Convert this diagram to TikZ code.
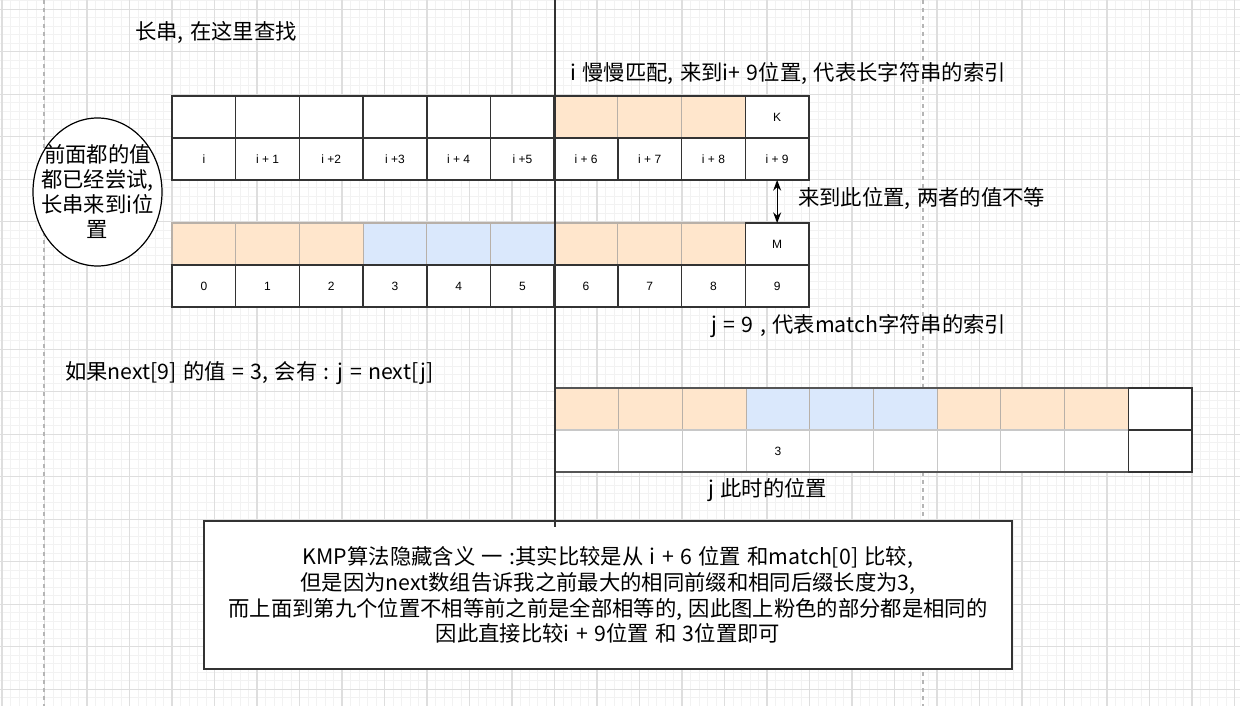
\documentclass[tikz,border=0pt]{standalone}
\usepackage{fontspec}
\setmainfont{Noto Sans CJK SC}
\newfontfamily\cellfont{Liberation Sans}
\usetikzlibrary{shapes.geometric,arrows.meta}
\definecolor{orangefill}{HTML}{FFE6CC}
\definecolor{bluefill}{HTML}{DAE8FC}
\definecolor{darkline}{HTML}{333333}
\definecolor{midline}{HTML}{555555}
\definecolor{softline}{HTML}{B8B0A8}
\definecolor{lightline}{HTML}{C8C8C8}
\definecolor{majorgrid}{HTML}{DEDEDE}
\definecolor{minorgrid}{HTML}{F2F2F2}
\definecolor{pageline}{HTML}{B5B5B5}
\newcommand\mytxt{\fontsize{16pt}{19.3pt}\selectfont\spaceskip=0.3em plus 0.1em}
\begin{document}
\begin{tikzpicture}[x=0.75pt,y=-0.75pt,
  cellbox/.style={rectangle, minimum width=47.78pt, minimum height=31.5pt, inner sep=0pt, outer sep=0pt, font=\cellfont\fontsize{9}{11}\selectfont},
  darkcell/.style={cellbox, draw=darkline, line width=1.1pt, fill=white},
  orangecell/.style={cellbox, draw=softline, line width=0.8pt, fill=orangefill},
  bluecell/.style={cellbox, draw=softline, line width=0.8pt, fill=bluefill},
  lightcell/.style={cellbox, draw=lightline, line width=0.8pt, fill=white},
  label/.style={anchor=west, inner sep=0pt, font=\mytxt, text=black},
  twoway/.style={{Stealth[length=8pt,width=6pt]}-{Stealth[length=8pt,width=6pt]}}
]
\useasboundingbox (0,0) rectangle (1240,706);
\fill[white] (0,0) rectangle (1240,706);
% grid
\foreach \k in {0,...,146} {\draw[minorgrid, line width=0.6pt] (2-8.5+\k*8.5,0) -- (2-8.5+\k*8.5,706);}
\foreach \k in {0,...,83} {\draw[minorgrid, line width=0.6pt] (0,0.8+\k*8.5) -- (1240,0.8+\k*8.5);}
\foreach \k in {0,...,29} {\draw[majorgrid, line width=0.8pt] (2+\k*42.5,0) -- (2+\k*42.5,706);}
\foreach \k in {0,...,16} {\draw[majorgrid, line width=0.8pt] (0,9.3+\k*42.5) -- (1240,9.3+\k*42.5);}
\draw[pageline, dashed, line width=0.8pt] (44,0) -- (44,706);
\draw[pageline, dashed, line width=0.8pt] (923,0) -- (923,706);

% table 1 (long string)
\foreach \i in {6,7,8} {\node[orangecell] (t1t\i) at (172+31.85+\i*63.7,117) {};}
\foreach \i in {0,...,5} {\node[darkcell] (t1t\i) at (172+31.85+\i*63.7,117) {};}
\node[darkcell] (t1t9) at (172+31.85+9*63.7,117) {K};
\foreach \i/\lab in {0/i, 1/i + 1, 2/i +2, 3/i +3, 4/i + 4, 5/i +5, 6/i + 6, 7/i + 7, 8/i + 8, 9/i + 9}
  {\node[darkcell] (t1b\i) at (172+31.85+\i*63.7,159) {\lab};}
\draw[darkline, line width=1.1pt] (t1t0.north west) rectangle (t1b9.south east);

% table 2 (match string)
\foreach \i in {0,1,2,6,7,8} {\node[orangecell] (t2t\i) at (172+31.85+\i*63.7,244) {};}
\foreach \i in {3,4,5} {\node[bluecell] (t2t\i) at (172+31.85+\i*63.7,244) {};}
\node[darkcell] (t2t9) at (172+31.85+9*63.7,244) {M};
\foreach \i in {0,...,9} {\node[darkcell] (t2b\i) at (172+31.85+\i*63.7,286) {\i};}

% table 3 (after shift)
\foreach \i in {0,1,2,6,7,8} {\node[orangecell] (t3t\i) at (555+31.85+\i*63.7,409) {};}
\foreach \i in {3,4,5} {\node[bluecell] (t3t\i) at (555+31.85+\i*63.7,409) {};}
\foreach \i in {0,1,2,4,5,6,7,8} {\node[lightcell] (t3b\i) at (555+31.85+\i*63.7,451) {};}
\node[lightcell] (t3b3) at (555+31.85+3*63.7,451) {3};
\draw[midline, line width=1pt] (t3t0.north west) rectangle (t3b8.south east);
\node[darkcell] (t3t9) at (555+31.85+9*63.7,409) {};
\node[darkcell] (t3b9) at (555+31.85+9*63.7,451) {};

% comparison arrow
\draw[twoway, line width=0.9pt, black] (t1b9.south) -- (t2t9.north);

% ellipse
\node[ellipse, draw=black, line width=0.9pt, fill=white, minimum width=96.75pt, minimum height=111pt, inner sep=0pt] (note) at (97.5,192) {};
\node[align=center, inner sep=0pt, font=\fontsize{16pt}{18.75pt}\selectfont] (notetext) at (note.center) {前面都的值\\都已经尝试,\\长串来到i位\\置};

% labels
\node[label] (l1) at (135,33) {长串, 在这里查找};
\node[label] (l2) at (570,73) {i 慢慢匹配, 来到i+ 9位置, 代表长字符串的索引};
\node[label] (l3) at (798,198) {来到此位置, 两者的值不等};
\node[label] (l4) at (711,326) {j = 9 , 代表match字符串的索引};
\node[label] (l5) at (65,373) {如果next[9] 的值 = 3, 会有 : j = next[j]};
\node[label] (l6) at (708,490) {j 此时的位置};

% explanation box
\node[draw=darkline, line width=1pt, fill=white, minimum width=606pt, minimum height=111pt, inner sep=0pt, align=center, font=\mytxt] (box) at (608,595) {KMP算法隐藏含义 一 :其实比较是从 i + 6 位置 和match[0] 比较,\\但是因为next数组告诉我之前最大的相同前缀和相同后缀长度为3,\\而上面到第九个位置不相等前之前是全部相等的, 因此图上粉色的部分都是相同的\\因此直接比较i + 9位置 和 3位置即可};

% divider line
\coordinate (vtop) at (555,0);
\coordinate (vbot) at (555,527);
\draw[darkline, line width=1.4pt] (vtop) -- (vbot);
\end{tikzpicture}
\end{document}
